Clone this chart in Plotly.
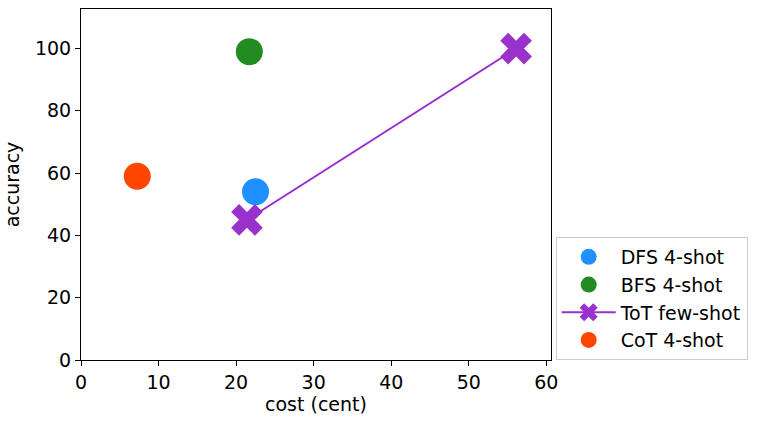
import plotly.graph_objects as go

# values
dfs_cost = [22.5]
dfs_acc = [54]
bfs_cost = [21.7]
bfs_acc = [99]
tot_cost = [21.4, 56.1]
tot_acc = [45, 100]
cot_cost = [7.25]
cot_acc = [59]

font = dict(family="DejaVu Sans", size=19, color="black")

fig = go.Figure()
fig.add_trace(go.Scatter(x=dfs_cost, y=dfs_acc, mode="markers", name="DFS 4-shot",
                         marker=dict(color="#1E90FF", size=27, symbol="circle")))
fig.add_trace(go.Scatter(x=bfs_cost, y=bfs_acc, mode="markers", name="BFS 4-shot",
                         marker=dict(color="#228B22", size=27, symbol="circle")))
fig.add_trace(go.Scatter(x=tot_cost, y=tot_acc, mode="lines+markers", name="ToT few-shot",
                         line=dict(color="#9932CC", width=2),
                         marker=dict(color="#9932CC", size=28, symbol="x")))
fig.add_trace(go.Scatter(x=cot_cost, y=cot_acc, mode="markers", name="CoT 4-shot",
                         marker=dict(color="#FF4500", size=27, symbol="circle")))

axis = dict(showline=True, linecolor="black", linewidth=1, mirror=True,
            ticks="outside", ticklen=5, tickcolor="black", showgrid=False,
            zeroline=False, tickfont=font)
fig.update_xaxes(axis, range=[0, 60.6], dtick=10, title=dict(text="cost (cent)", font=font, standoff=5))
fig.update_yaxes(axis, range=[0, 112.7], dtick=20, title=dict(text="accuracy", font=font, standoff=10))

fig.update_layout(
    width=761, height=422,
    margin=dict(l=81, r=210, t=9, b=62),
    plot_bgcolor="white", paper_bgcolor="white",
    font=font,
    legend=dict(x=1.01, y=0, xanchor="left", yanchor="bottom",
                bordercolor="#cccccc", borderwidth=1, font=font,
                itemsizing="trace", itemwidth=54),
)

# drop the page margin so the figure sits at the window's corner
fig.write_html("out.html", config={"displayModeBar": False},
               post_script="document.body.style.margin='0';")
